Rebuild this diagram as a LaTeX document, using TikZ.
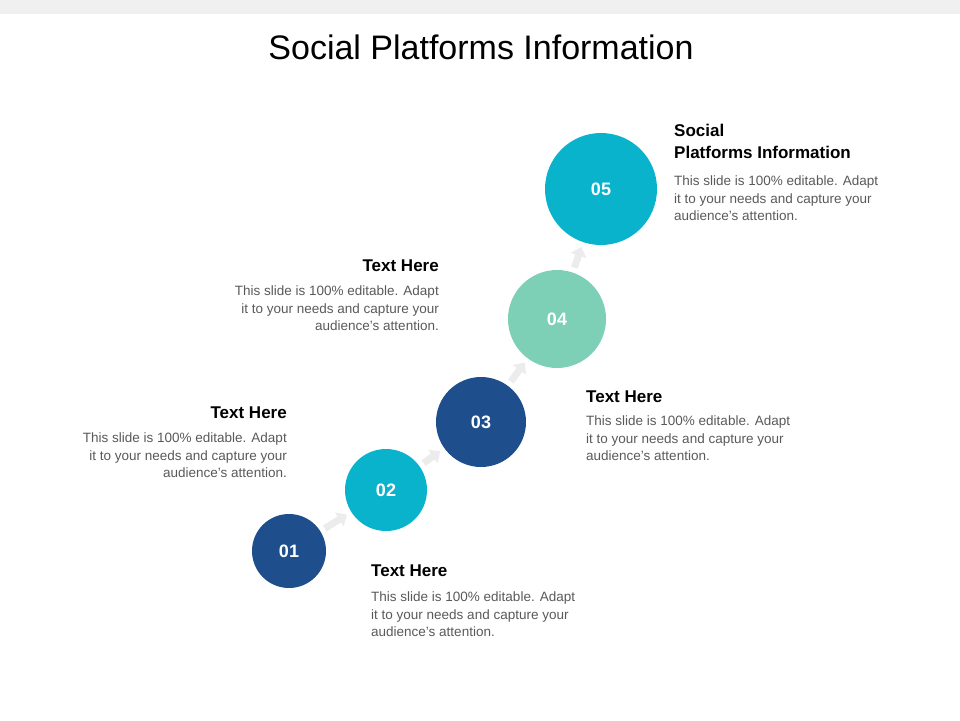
\documentclass[tikz,border=0pt]{standalone}
\usepackage{fontspec}
\setmainfont{Liberation Sans}
\usetikzlibrary{arrows.meta}
\definecolor{navy}{HTML}{1F4E8C}
\definecolor{teal}{HTML}{0AB3CC}
\definecolor{mint}{HTML}{7DCFB6}
\definecolor{bodygray}{HTML}{595959}
\definecolor{arrowgray}{HTML}{ECECEC}
\begin{document}
\begin{tikzpicture}[x=1pt,y=-1pt,
  circ/.style={circle,inner sep=0,text=white,font=\fontsize{18}{20}\selectfont\bfseries},
  flow/.style={draw=arrowgray,line width=7pt,-{Triangle[length=9pt,width=16pt]},shorten <=5pt,shorten >=5pt},
  ttl/.style={inner sep=0,font=\fontsize{17}{22}\selectfont\bfseries,text=black},
  body/.style={inner sep=0,font=\fontsize{13.5}{17.5}\selectfont,text=bodygray}]
\useasboundingbox (0,0) rectangle (960,720);
\fill[black!6] (0,0) rectangle (960,14);
\node[inner sep=0,font=\fontsize{34}{40}\selectfont] (title) at (481,47) {Social Platforms Information};
\node[circ,fill=navy,minimum size=74pt] (c1) at (289,551) {01};
\node[circ,fill=teal,minimum size=82pt] (c2) at (386,490) {02};
\node[circ,fill=navy,minimum size=90pt] (c3) at (481,422) {03};
\node[circ,fill=mint,minimum size=98pt] (c4) at (557,319) {04};
\node[circ,fill=teal,minimum size=112pt] (c5) at (601,189) {05};
\draw[flow] (c1) -- (c2);
\draw[flow] (c2) -- (c3);
\draw[flow] (c3) -- (c4);
\draw[flow] (c4) -- (c5);
% block 5
\node[ttl,anchor=north west,align=left] (t5) at (674,124) {Social\\Platforms Information};
\node[body,anchor=north west,align=left] (b5) at (674,176) {This slide is 100\% editable. Adapt\\it to your needs and capture your\\audience's attention.};
% block 4
\node[ttl,anchor=north east] (t4) at (439,260) {Text Here};
\node[body,anchor=north east,align=right] (b4) at (439,286) {This slide is 100\% editable. Adapt\\it to your needs and capture your\\audience's attention.};
% block 3
\node[ttl,anchor=north west] (t3) at (586,391) {Text Here};
\node[body,anchor=north west,align=left] (b3) at (586,416) {This slide is 100\% editable. Adapt\\it to your needs and capture your\\audience's attention.};
% block 2
\node[ttl,anchor=north east] (t2) at (287,407) {Text Here};
\node[body,anchor=north east,align=right] (b2) at (287,433) {This slide is 100\% editable. Adapt\\it to your needs and capture your\\audience's attention.};
% block 1
\node[ttl,anchor=north west] (t1) at (371,565) {Text Here};
\node[body,anchor=north west,align=left] (b1) at (371,592) {This slide is 100\% editable. Adapt\\it to your needs and capture your\\audience's attention.};
\end{tikzpicture}
\end{document}
